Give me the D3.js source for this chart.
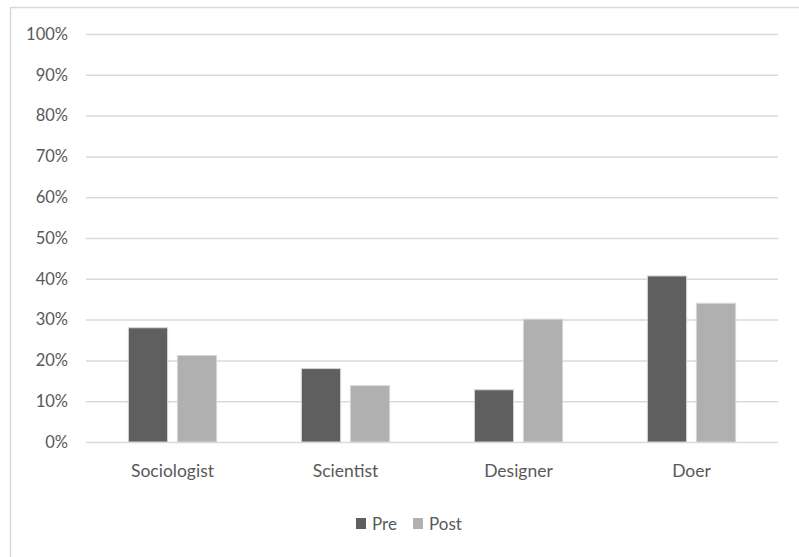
<!DOCTYPE html>
<html>
<head>
<meta charset="utf-8">
<script src="https://cdn.jsdelivr.net/npm/d3@7"></script>
<style>
  html, body { margin: 0; padding: 0; background: #fff; }
  svg { display: block; }
  text { font-family: Lato, "Open Sans", sans-serif; fill: #595959; }
</style>
</head>
<body>
<svg id="chart" width="799" height="557"></svg>
<script>
// Share of respondents by role, before and after
const categories = ["Sociologist", "Scientist", "Designer", "Doer"];
const seriesNames = ["Pre", "Post"];
const preValues = [0.28, 0.18, 0.128, 0.407];
const postValues = [0.212, 0.138, 0.301, 0.34];
const yTicks = [0, 0.1, 0.2, 0.3, 0.4, 0.5, 0.6, 0.7, 0.8, 0.9, 1.0];
const colors = { Pre: "#5f5f5f", Post: "#b0b0b0" };

const svg = d3.select("#chart");
const plot = { left: 86, right: 778, top: 34, bottom: 442 };

// chart frame
svg.append("rect")
  .attr("x", 10.5).attr("y", 7.5)
  .attr("width", 820).attr("height", 580)
  .attr("fill", "none").attr("stroke", "#d9d9d9").attr("stroke-width", 1.5);

const y = d3.scaleLinear().domain([0, 1]).range([plot.bottom, plot.top]);
const x0 = d3.scaleBand().domain(categories).range([plot.left, plot.right])
  .paddingInner(0.49).paddingOuter(0.245);
const x1 = d3.scaleBand().domain(seriesNames).range([0, x0.bandwidth()])
  .paddingInner(0.2);

// gridlines + tick labels
const yAxis = d3.axisLeft(y)
  .tickValues(yTicks)
  .tickFormat(d3.format(".0%"))
  .tickSize(-(plot.right - plot.left))
  .tickPadding(18);
const gy = svg.append("g")
  .attr("transform", `translate(${plot.left},0)`)
  .call(yAxis);
gy.select(".domain").remove();
gy.selectAll(".tick line").attr("stroke", "#d9d9d9").attr("stroke-width", 1.5);
gy.selectAll(".tick text").style("font-size", "16.5px").attr("fill", "#595959");

// bars
const rows = categories.map((c, i) => ({ cat: c, Pre: preValues[i], Post: postValues[i] }));
const groups = svg.append("g").selectAll("g")
  .data(rows).join("g")
  .attr("transform", d => `translate(${x0(d.cat)},0)`);
groups.selectAll("rect")
  .data(d => seriesNames.map(s => ({ s, v: d[s] })))
  .join("rect")
  .attr("x", d => x1(d.s))
  .attr("y", d => y(d.v))
  .attr("width", x1.bandwidth())
  .attr("height", d => y(0) - y(d.v))
  .attr("fill", d => colors[d.s])
  .attr("stroke", "#d6d6d6").attr("stroke-width", 1);

// category labels
const xAxis = d3.axisBottom(x0).tickSize(0).tickPadding(23);
const gx = svg.append("g")
  .attr("transform", `translate(0,${plot.bottom})`)
  .call(xAxis);
gx.select(".domain").remove();
gx.selectAll(".tick text").style("font-size", "17.5px").attr("fill", "#595959");

// legend
const legend = svg.append("g").attr("transform", "translate(356,518)");
const items = [{ s: "Pre", dx: 0 }, { s: "Post", dx: 57 }];
const li = legend.selectAll("g").data(items).join("g")
  .attr("transform", d => `translate(${d.dx},0)`);
li.append("rect").attr("width", 10).attr("height", 11)
  .attr("fill", d => colors[d.s]);
li.append("text").attr("x", 16).attr("y", 11.5)
  .style("font-size", "17px").text(d => d.s);
</script>
</body>
</html>
